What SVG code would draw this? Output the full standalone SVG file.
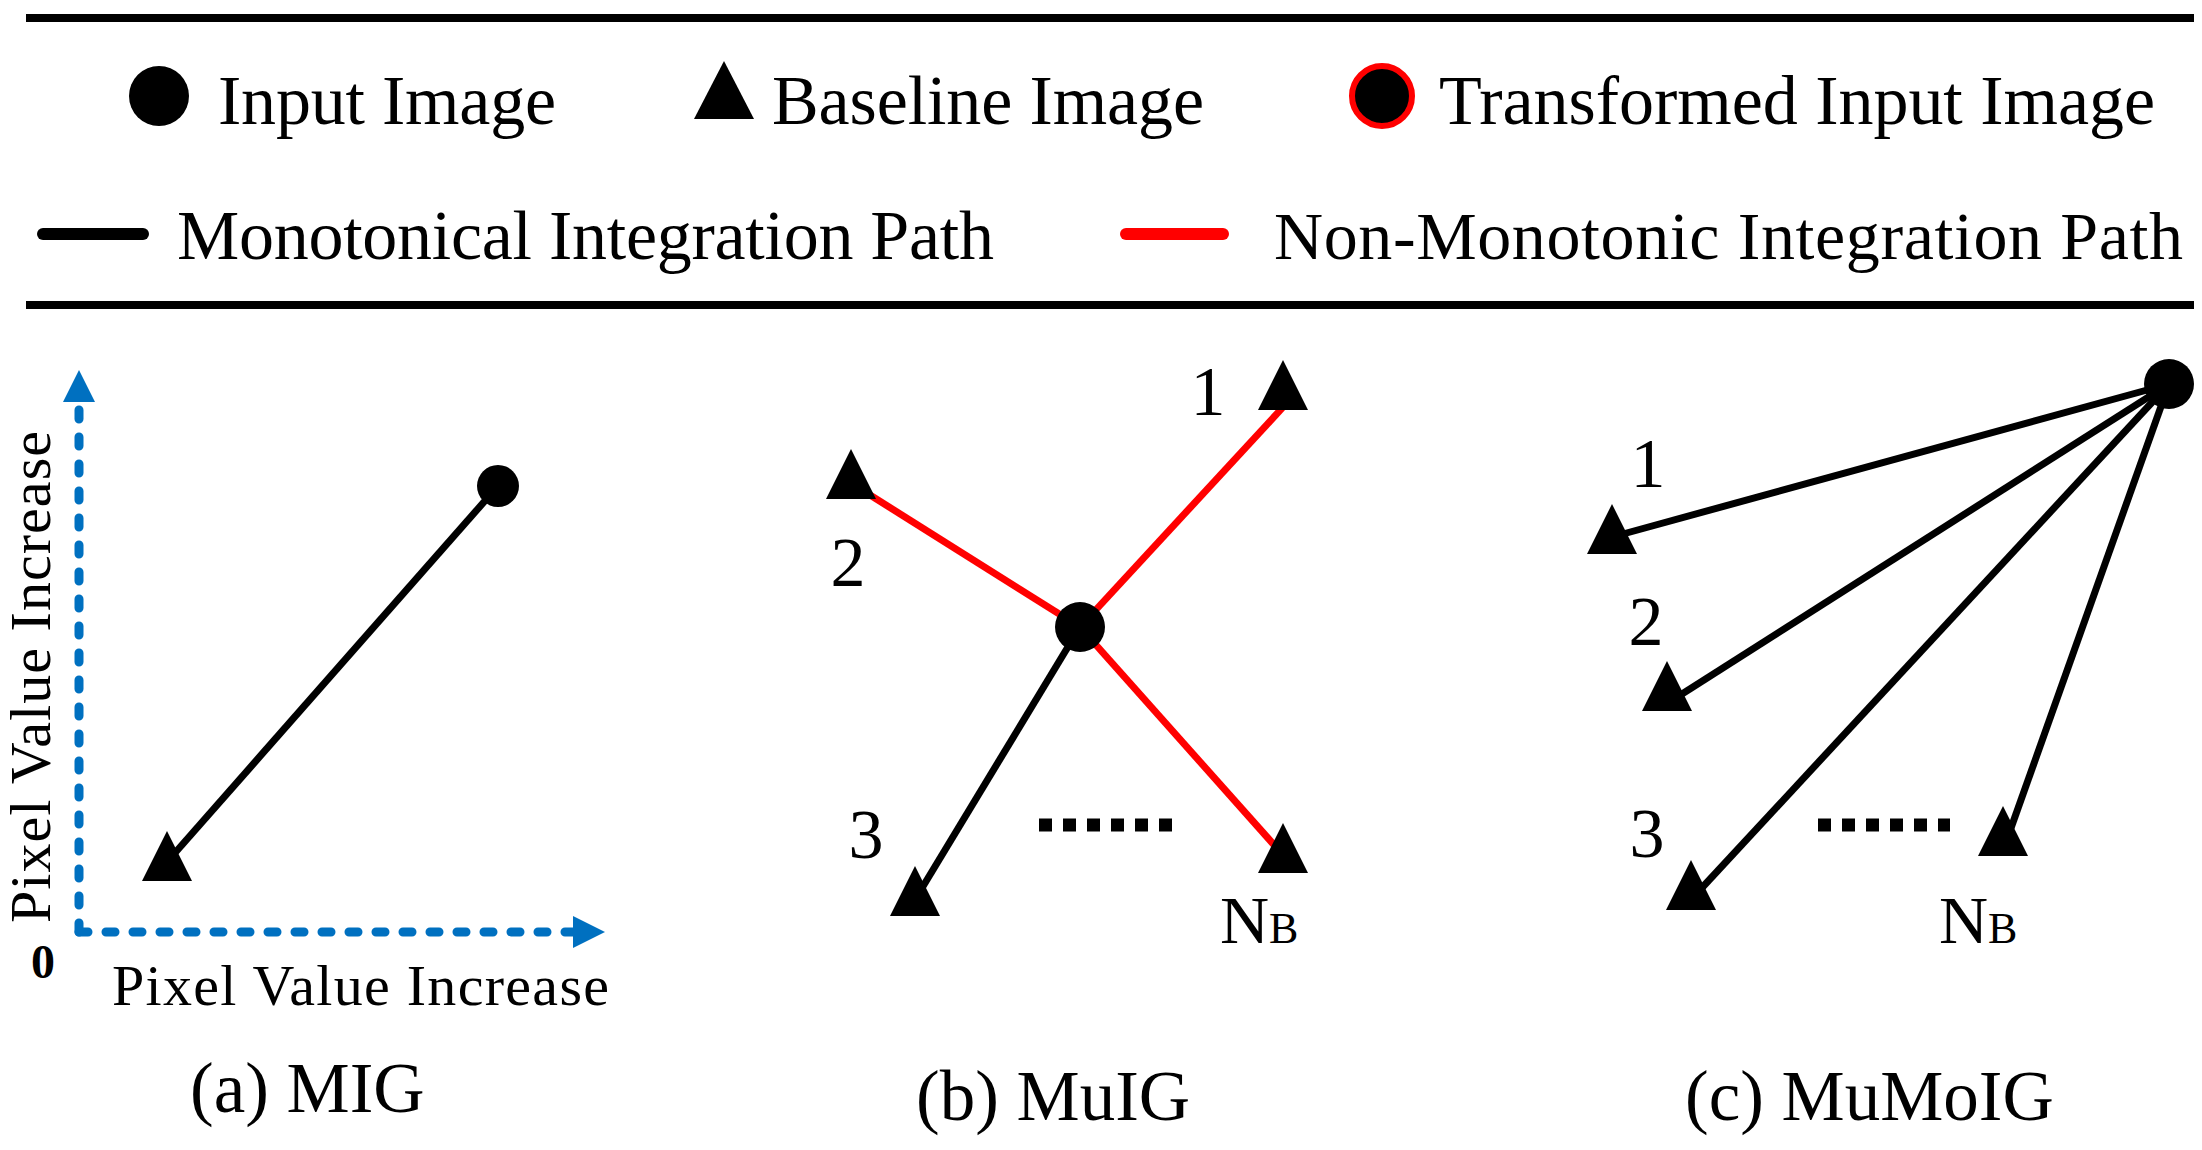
<svg xmlns="http://www.w3.org/2000/svg" xmlns:xlink="http://www.w3.org/1999/xlink" width="2202" height="1150" viewBox="0 0 2202 1150" font-family="'Liberation Serif', 'Times New Roman', Times, serif">
<style>
text{font-family:'Liberation Serif','Times New Roman',Times,serif;fill:#000}
.lg{font-size:70px}
.num{font-size:70px;text-anchor:middle}
.nb{font-size:68px}
.sub{font-size:44px}
.cap{font-size:71px}
.ax{font-size:58px}
.rule{stroke:#000;stroke-width:8}
.blk{stroke:#000;stroke-width:7;fill:none}
.red{stroke:#FF0000;stroke-width:7;fill:none}
.axis{stroke:#0070C0;stroke-width:9;stroke-linecap:round;stroke-dasharray:9 18;fill:none}
.dots{stroke:#000;stroke-width:13;stroke-dasharray:13 11;fill:none}
</style>
<defs>
<path id="tri" d="M0,-25 L25,25 L-25,25 Z" fill="#000"/>
<marker id="blueArrow" markerUnits="userSpaceOnUse" markerWidth="34" markerHeight="34" refX="2" refY="16" orient="auto">
<path d="M0,0 L32,16 L0,32 Z" fill="#0070C0"/>
</marker>
</defs>
<rect width="2202" height="1150" fill="#fff"/>

<g id="legend">
<line class="rule" x1="26" y1="18" x2="2194" y2="18"/>
<line class="rule" x1="26" y1="305" x2="2194" y2="305"/>
<g id="legend-input"><circle cx="159" cy="96" r="30" fill="#000"/><text class="lg" x="218" y="124" textLength="338" font-family="Liberation Serif">Input Image</text></g>
<g id="legend-baseline"><polygon points="724,61 754,119 694,119" fill="#000"/><text class="lg" x="772" y="124" textLength="432" font-family="Liberation Serif">Baseline Image</text></g>
<g id="legend-transformed"><circle cx="1382" cy="96" r="30" fill="#000" stroke="#FF0000" stroke-width="6"/><text class="lg" x="1439" y="124" textLength="716" font-family="Liberation Serif">Transformed Input Image</text></g>
<g id="legend-mono"><line x1="43" y1="234" x2="143" y2="234" stroke="#000" stroke-width="12" stroke-linecap="round"/><text class="lg" x="177" y="259" textLength="817" font-family="Liberation Serif">Monotonical Integration Path</text></g>
<g id="legend-nonmono"><line x1="1126" y1="234" x2="1223" y2="234" stroke="#FF0000" stroke-width="12" stroke-linecap="round"/><text class="nb" x="1274" y="259" textLength="909" font-family="Liberation Serif">Non-Monotonic Integration Path</text></g>
</g>

<g id="connectors">
<line class="axis" x1="79" y1="932" x2="79" y2="400" marker-end="url(#blueArrow)"/>
<line class="axis" x1="79" y1="932" x2="575" y2="932" marker-end="url(#blueArrow)"/>
<line class="blk" x1="498" y1="486" x2="174" y2="854"/>
<line class="red" x1="1080" y1="627" x2="1285" y2="405"/>
<line class="red" x1="1080" y1="627" x2="870" y2="495"/>
<line class="red" x1="1080" y1="627" x2="1275" y2="846"/>
<line class="blk" x1="1080" y1="627" x2="922" y2="888"/>
<line class="blk" x1="2169" y1="384" x2="1623" y2="534"/>
<line class="blk" x1="2169" y1="384" x2="1682" y2="694"/>
<line class="blk" x1="2169" y1="384" x2="1699" y2="891"/>
<line class="blk" x1="2169" y1="384" x2="2011" y2="828"/>
</g>

<g id="panel-a">
<text class="ax" transform="translate(50,923) rotate(-90)" x="0" y="0" textLength="492">Pixel Value Increase</text>
<text class="ax" x="112" y="1005" textLength="497">Pixel Value Increase</text>
<text x="43" y="978" style="font-size:48px;font-weight:bold;text-anchor:middle">0</text>
<g id="a-input"><circle cx="498" cy="486" r="21" fill="#000"/></g>
<g id="a-baseline"><use xlink:href="#tri" x="167" y="856"/></g>
<text class="cap" x="190" y="1112">(a) MIG</text>
</g>

<g id="panel-b">
<g id="b-base1"><use xlink:href="#tri" x="1283" y="385"/><text class="num" x="1208" y="415">1</text></g>
<g id="b-base2"><use xlink:href="#tri" x="851" y="474"/><text class="num" x="848" y="586">2</text></g>
<g id="b-base3"><use xlink:href="#tri" x="915" y="891"/><text class="num" x="866" y="858">3</text></g>
<g id="b-baseNB"><use xlink:href="#tri" x="1283" y="848"/><text class="nb" x="1220" y="943">N<tspan class="sub">B</tspan></text></g>
<g id="b-input"><circle cx="1080" cy="627" r="25" fill="#000"/></g>
<path class="dots" d="M1039,825 H1172"/>
<text class="cap" x="916" y="1120">(b) MuIG</text>
</g>

<g id="panel-c">
<g id="c-base1"><use xlink:href="#tri" x="1612" y="529"/><text class="num" x="1648" y="487">1</text></g>
<g id="c-base2"><use xlink:href="#tri" x="1667" y="686"/><text class="num" x="1646" y="645">2</text></g>
<g id="c-base3"><use xlink:href="#tri" x="1691" y="885"/><text class="num" x="1647" y="857">3</text></g>
<g id="c-baseNB"><use xlink:href="#tri" x="2003" y="831"/><text class="nb" x="1939" y="943">N<tspan class="sub">B</tspan></text></g>
<g id="c-input"><circle cx="2169" cy="384" r="25" fill="#000"/></g>
<path class="dots" d="M1818,825 H1950"/>
<text class="cap" x="1685" y="1120">(c) MuMoIG</text>
</g>
</svg>
